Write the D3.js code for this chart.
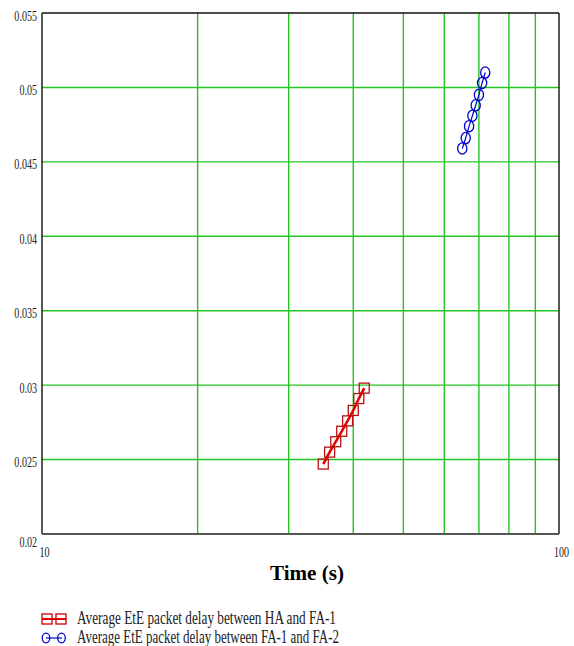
<!DOCTYPE html>
<html><head><meta charset="utf-8">
<script src="https://cdn.jsdelivr.net/npm/d3@7"></script>
<style>
body{margin:0;background:#fff;}
svg{display:block;}
</style></head>
<body>
<svg id="c" width="574" height="646"></svg>
<script>
// ---- data ----
const timeHA = [35, 36, 37, 38, 39, 40, 41, 42];
const delayHA = [0.0247, 0.0255, 0.0262, 0.0269, 0.0276, 0.0283, 0.0291, 0.0298];
const timeFA = [65, 66, 67, 68, 69, 70, 71, 72];
const delayFA = [0.0459, 0.0466, 0.0474, 0.0481, 0.0488, 0.0495, 0.0503, 0.0510];
const xTicks = [10, 100];
const xGrid = [20, 30, 40, 50, 60, 70, 80, 90];
const yTicks = [0.02, 0.025, 0.03, 0.035, 0.04, 0.045, 0.05, 0.055];
const yTickLabels = ["0.02", "0.025", "0.03", "0.035", "0.04", "0.045", "0.05", "0.055"];
const yGrid = [0.025, 0.03, 0.035, 0.04, 0.045, 0.05];
const seriesNames = ["Average EtE packet delay between HA and FA-1", "Average EtE packet delay between FA-1 and FA-2"];
const xTitle = "Time (s)";

// ---- layout ----
const svg = d3.select("#c");
const L = 42, T = 13, R = 559, B = 534;
const x = d3.scaleLog().domain([10, 100]).range([L, R]);
const y = d3.scaleLinear().domain([0.02, 0.055]).range([B, T]);
const green = "#22c622";

// grid
svg.append("g").selectAll("line").data(xGrid).join("line")
  .attr("x1", d => x(d)).attr("x2", d => x(d)).attr("y1", T).attr("y2", B)
  .attr("stroke", green).attr("stroke-width", 1.4);
svg.append("g").selectAll("line").data(yGrid).join("line")
  .attr("x1", L).attr("x2", R).attr("y1", d => y(d)).attr("y2", d => y(d))
  .attr("stroke", green).attr("stroke-width", 1.4);

// frame
svg.append("line").attr("x1", L).attr("x2", R).attr("y1", T).attr("y2", T).attr("stroke", "#111").attr("stroke-width", 1.4);
svg.append("line").attr("x1", L).attr("x2", L).attr("y1", T).attr("y2", B).attr("stroke", "#111").attr("stroke-width", 1.4);
svg.append("line").attr("x1", R).attr("x2", R).attr("y1", T).attr("y2", B).attr("stroke", "#111").attr("stroke-width", 1.4);
svg.append("line").attr("x1", L).attr("x2", R).attr("y1", B).attr("y2", B).attr("stroke", "#555").attr("stroke-width", 2.2);

// axes (labels only)
const fontTick = "'Liberation Serif', serif";
const yAxis = svg.append("g").attr("transform", `translate(${L},0)`)
  .call(d3.axisLeft(y).tickValues(yTicks).tickSize(0).tickFormat((d, i) => yTickLabels[i]));
yAxis.select(".domain").remove();
yAxis.selectAll("text")
  .attr("x", 0).attr("dy", null)
  .attr("transform", d => `translate(-5,${d === 0.02 ? 12 : 7}) scale(0.72,1)`)
  .attr("font-family", fontTick).attr("font-size", 14).attr("fill", "#222")
  .attr("text-anchor", "end");

const xAxis = svg.append("g").attr("transform", `translate(0,${B})`)
  .call(d3.axisBottom(x).tickValues(xTicks).tickSize(0).tickFormat(d3.format("d")));
xAxis.select(".domain").remove();
xAxis.selectAll("text")
  .attr("y", 0).attr("dy", null)
  .attr("transform", `translate(2,23) scale(0.72,1)`)
  .attr("font-family", fontTick).attr("font-size", 14).attr("fill", "#222")
  .attr("text-anchor", "middle");

// x title
svg.append("text").attr("x", 307).attr("y", 580)
  .attr("text-anchor", "middle")
  .attr("font-family", "'Liberation Serif', serif").attr("font-weight", "bold")
  .attr("font-size", 21).attr("fill", "#000")
  .attr("textLength", 74).attr("lengthAdjust", "spacingAndGlyphs")
  .text(xTitle);

// series 1 (red squares)
const s1 = timeHA.map((t, i) => [t, delayHA[i]]);
const line = d3.line().x(d => x(d[0])).y(d => y(d[1]));
svg.append("path").datum(s1).attr("d", line)
  .attr("fill", "none").attr("stroke", "#e80000").attr("stroke-width", 2.6);
svg.append("g").selectAll("rect").data(s1).join("rect")
  .attr("x", d => x(d[0]) - 5).attr("y", d => y(d[1]) - 5)
  .attr("width", 10).attr("height", 10)
  .attr("fill", "none").attr("stroke", "#b81010").attr("stroke-width", 1.3);

// series 2 (blue circles)
const s2 = timeFA.map((t, i) => [t, delayFA[i]]);
svg.append("path").datum(s2).attr("d", line)
  .attr("fill", "none").attr("stroke", "#0000d0").attr("stroke-width", 1.2);
svg.append("g").selectAll("ellipse").data(s2).join("ellipse")
  .attr("cx", d => x(d[0])).attr("cy", d => y(d[1]))
  .attr("rx", 4.6).attr("ry", 5.6)
  .attr("fill", "none").attr("stroke", "#0000d0").attr("stroke-width", 1.3);

// legend
const lg = svg.append("g");
// red
lg.append("line").attr("x1", 42).attr("x2", 66).attr("y1", 619).attr("y2", 619).attr("stroke", "#e80000").attr("stroke-width", 2);
[42, 56].forEach(px => lg.append("rect").attr("x", px).attr("y", 614).attr("width", 10).attr("height", 10)
  .attr("fill", "none").attr("stroke", "#d00000").attr("stroke-width", 1.3));
// blue
lg.append("line").attr("x1", 46).attr("x2", 62).attr("y1", 638).attr("y2", 638).attr("stroke", "#0000d0").attr("stroke-width", 1.2);
[46, 61.5].forEach(px => lg.append("ellipse").attr("cx", px).attr("cy", 638).attr("rx", 3.8).attr("ry", 4.8)
  .attr("fill", "none").attr("stroke", "#0000d0").attr("stroke-width", 1.3));
lg.selectAll("text").data(seriesNames).join("text")
  .attr("x", 77).attr("y", (d, i) => 624 + i * 18.5)
  .attr("font-family", "'Liberation Serif', serif").attr("font-size", 18).attr("fill", "#222")
  .attr("textLength", (d, i) => i === 0 ? 259 : 262).attr("lengthAdjust", "spacingAndGlyphs")
  .text(d => d);
</script>
</body></html>
